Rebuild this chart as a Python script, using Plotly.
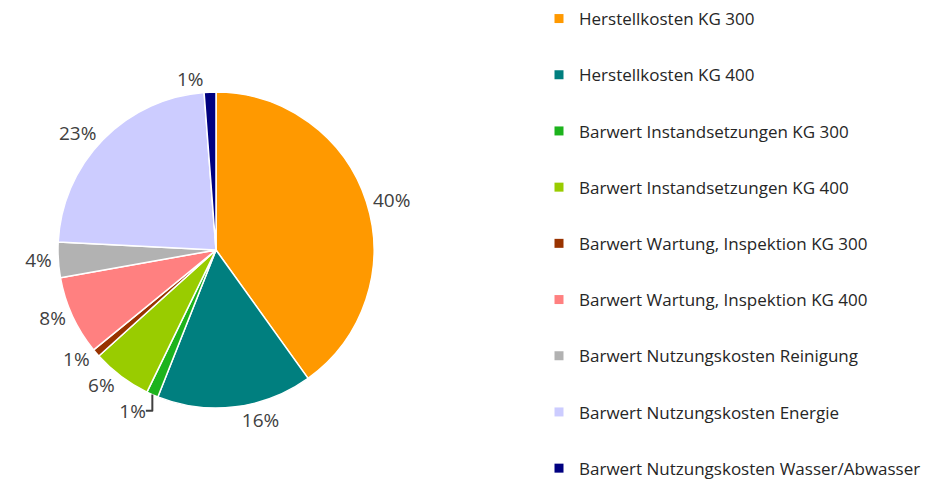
import plotly.graph_objects as go

labels = [
    "Herstellkosten KG 300",
    "Herstellkosten KG 400",
    "Barwert Instandsetzungen KG 300",
    "Barwert Instandsetzungen KG 400",
    "Barwert Wartung, Inspektion KG 300",
    "Barwert Wartung, Inspektion KG 400",
    "Barwert Nutzungskosten Reinigung",
    "Barwert Nutzungskosten Energie",
    "Barwert Nutzungskosten Wasser/Abwasser",
]
values = [40.1, 15.9, 1.2, 6.1, 0.8, 8.1, 3.6, 23.0, 1.2]
colors = ["#FF9900", "#007F7F", "#1DB31D", "#99CC00", "#993300",
          "#FF8080", "#B2B2B2", "#CCCCFF", "#000080"]

W, H = 936, 479
cx, cy, half = 208, 242, 158

fig = go.Figure()
fig.add_trace(go.Pie(
    labels=labels, values=values, sort=False, direction="clockwise", rotation=0,
    marker=dict(colors=colors, line=dict(color="white", width=1.5)),
    textposition="outside", texttemplate="%{percent:.0%}",
    textfont=dict(family="Open Sans", size=19, color="#404040"),
    showlegend=False, hoverinfo="label+percent",
    domain=dict(x=[(cx - half) / W, (cx + half) / W],
                y=[(H - cy - half) / H, (H - cy + half) / H]),
))
for lab, col in zip(labels, colors):
    fig.add_trace(go.Scatter(
        x=[None], y=[None], mode="markers", name=lab, legendgroup=lab,
        marker=dict(symbol="square", size=9, color=col), showlegend=True,
    ))

fig.update_layout(
    width=W, height=H, paper_bgcolor="white", plot_bgcolor="white",
    margin=dict(l=0, r=0, t=0, b=0, autoexpand=False),
    xaxis=dict(visible=False), yaxis=dict(visible=False),
    legend=dict(x=531 / W, y=1 + 7 / H, xanchor="left", yanchor="top",
                font=dict(family="Open Sans", size=17, color="#262626"),
                tracegroupgap=31.1, itemsizing="trace", bgcolor="rgba(0,0,0,0)",
                maxheight=700),
)
fig.write_html("out.html")
